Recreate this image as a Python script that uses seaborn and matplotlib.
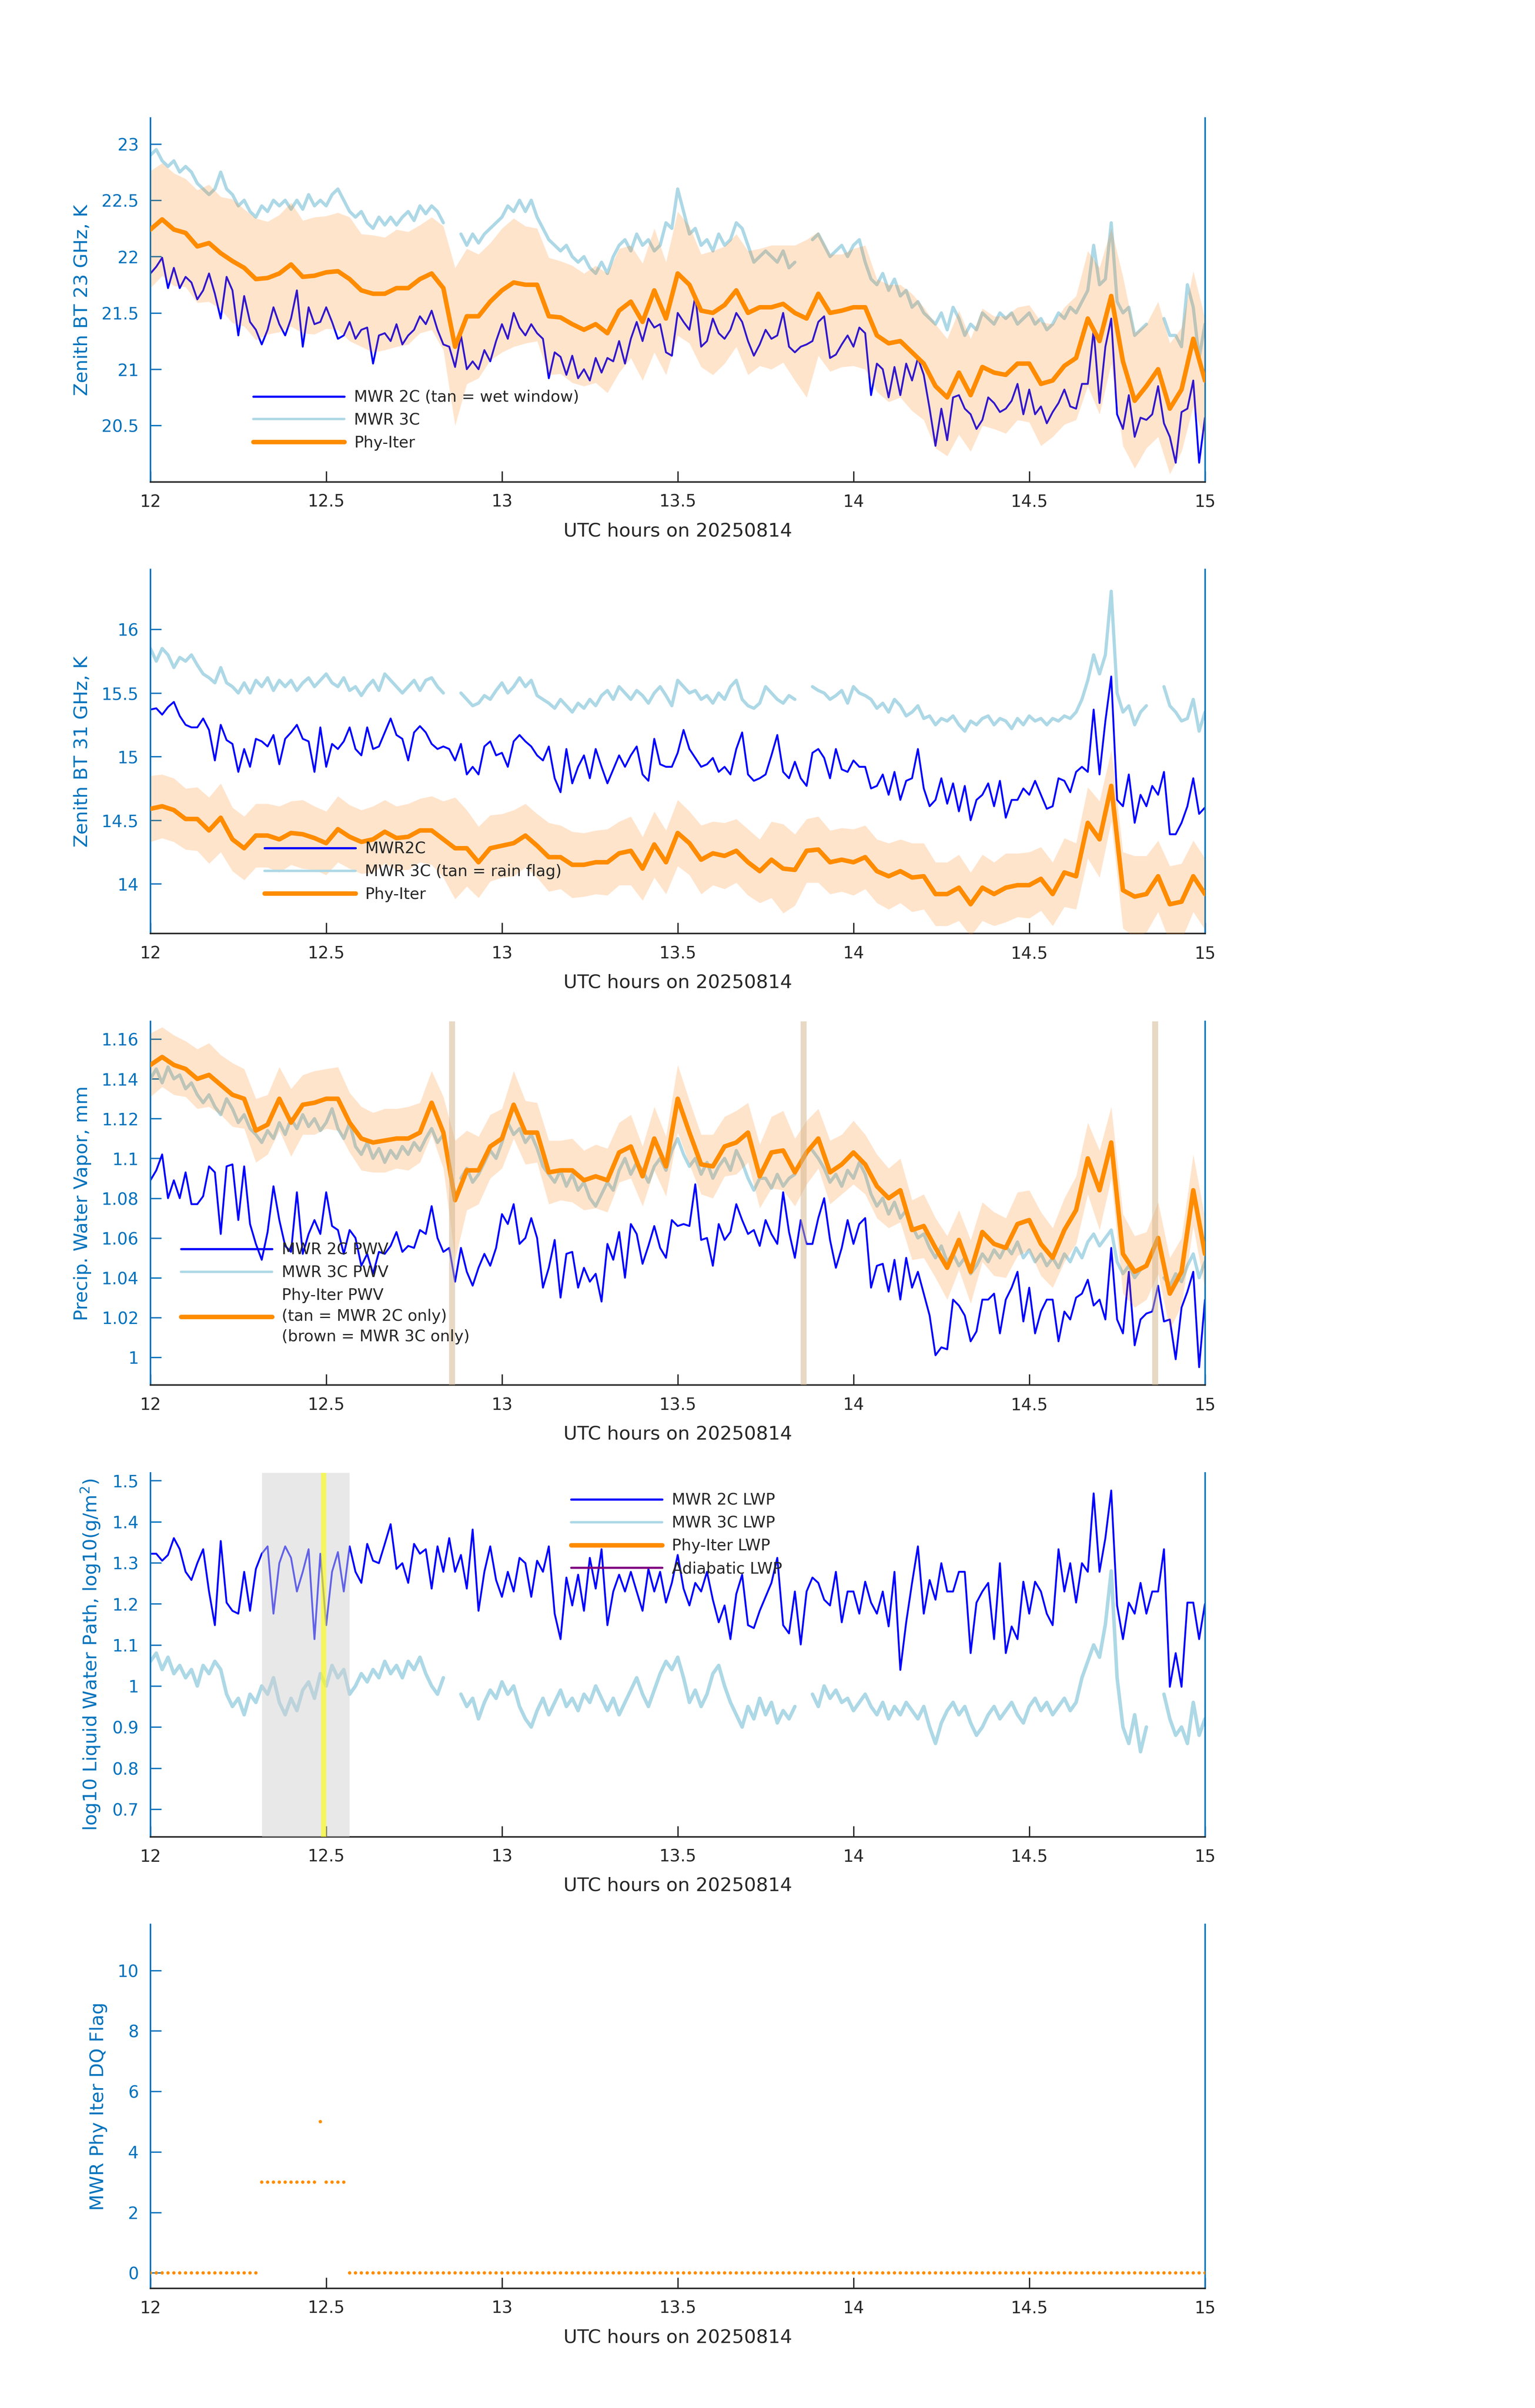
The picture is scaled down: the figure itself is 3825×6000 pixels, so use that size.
import numpy as np
import pandas as pd
import seaborn as sns
import matplotlib.pyplot as plt
from matplotlib.lines import Line2D

nan = float('nan')

# ---- values (1-min for MWR, 2-min for Phy-Iter) ----
bt23_2c = [
    21.85, 21.91, 21.99, 21.72, 21.90, 21.72, 21.82, 21.77, 21.62, 21.70,
    21.85, 21.67, 21.45, 21.82, 21.70, 21.30, 21.65, 21.42, 21.35, 21.22,
    21.35, 21.55, 21.40, 21.30, 21.45, 21.70, 21.20, 21.55, 21.40, 21.42,
    21.55, 21.42, 21.27, 21.30, 21.42, 21.27, 21.35, 21.37, 21.05, 21.30,
    21.32, 21.25, 21.40, 21.22, 21.30, 21.35, 21.47, 21.40, 21.52, 21.35,
    21.22, 21.20, 21.02, 21.30, 21.00, 21.07, 21.00, 21.17, 21.07, 21.25,
    21.40, 21.27, 21.50, 21.37, 21.30, 21.40, 21.32, 21.27, 20.92, 21.15,
    21.11, 20.95, 21.12, 20.92, 21.00, 20.90, 21.10, 20.97, 21.10, 21.07,
    21.25, 21.05, 21.27, 21.42, 21.25, 21.45, 21.37, 21.40, 21.15, 21.12,
    21.50, 21.42, 21.35, 21.65, 21.20, 21.25, 21.45, 21.32, 21.27, 21.35,
    21.50, 21.42, 21.25, 21.12, 21.22, 21.35, 21.27, 21.30, 21.50, 21.20,
    21.15, 21.20, 21.22, 21.25, 21.42, 21.47, 21.10, 21.13, 21.22, 21.30,
    21.20, 21.37, 21.32, 20.77, 21.05, 21.00, 20.75, 21.02, 20.77, 21.05,
    20.90, 21.10, 20.95, 20.65, 20.32, 20.65, 20.37, 20.75, 20.77, 20.65,
    20.60, 20.47, 20.55, 20.75, 20.70, 20.62, 20.65, 20.72, 20.87, 20.60,
    20.82, 20.60, 20.67, 20.52, 20.62, 20.70, 20.82, 20.67, 20.65, 20.87,
    20.87, 21.35, 20.70, 21.20, 21.45, 20.60, 20.47, 20.77, 20.40, 20.57,
    20.55, 20.60, 20.85, 20.52, 20.40, 20.17, 20.62, 20.65, 20.90, 20.17,
    20.57]
bt23_3c = [
    22.90, 22.95, 22.85, 22.80, 22.85, 22.75, 22.80, 22.75, 22.65, 22.60,
    22.55, 22.60, 22.75, 22.60, 22.55, 22.45, 22.50, 22.40, 22.35, 22.45,
    22.40, 22.50, 22.45, 22.50, 22.42, 22.50, 22.42, 22.55, 22.45, 22.50,
    22.45, 22.55, 22.60, 22.50, 22.40, 22.35, 22.40, 22.30, 22.25, 22.35,
    22.28, 22.35, 22.28, 22.35, 22.40, 22.32, 22.45, 22.38, 22.45, 22.40,
    22.30, nan, nan, 22.20, 22.10, 22.20, 22.12, 22.20, 22.25, 22.30,
    22.35, 22.45, 22.40, 22.50, 22.40, 22.50, 22.35, 22.25, 22.15, 22.10,
    22.05, 22.10, 22.00, 21.95, 22.00, 21.90, 21.85, 21.95, 21.85, 22.00,
    22.10, 22.15, 22.05, 22.20, 22.10, 22.15, 22.05, 22.10, 22.30, 22.25,
    22.60, 22.40, 22.20, 22.25, 22.10, 22.15, 22.05, 22.20, 22.10, 22.15,
    22.30, 22.25, 22.10, 21.95, 22.00, 22.05, 22.00, 21.95, 22.05, 21.90,
    21.95, nan, nan, 22.15, 22.20, 22.10, 22.00, 22.05, 22.10, 22.00,
    22.10, 22.15, 21.95, 21.80, 21.75, 21.85, 21.70, 21.80, 21.65, 21.70,
    21.55, 21.60, 21.50, 21.45, 21.40, 21.50, 21.35, 21.55, 21.45, 21.30,
    21.40, 21.35, 21.50, 21.45, 21.40, 21.50, 21.45, 21.50, 21.40, 21.45,
    21.50, 21.40, 21.45, 21.35, 21.40, 21.50, 21.45, 21.55, 21.50, 21.60,
    21.70, 22.10, 21.75, 21.80, 22.30, 21.60, 21.50, 21.55, 21.30, 21.35,
    21.40, nan, nan, 21.45, 21.30, 21.30, 21.20, 21.75, 21.55, 21.10,
    21.40]
bt23_pi = [
    22.24, 22.33, 22.24, 22.21, 22.09, 22.12, 22.03, 21.96, 21.90, 21.80,
    21.81, 21.85, 21.93, 21.82, 21.83, 21.86, 21.87, 21.80, 21.70, 21.67,
    21.67, 21.72, 21.72, 21.80, 21.85, 21.72, 21.20, 21.47, 21.47, 21.60,
    21.70, 21.77, 21.75, 21.75, 21.47, 21.46, 21.40, 21.35, 21.40, 21.32,
    21.52, 21.60, 21.42, 21.70, 21.45, 21.85, 21.75, 21.52, 21.50, 21.57,
    21.70, 21.50, 21.55, 21.55, 21.58, 21.50, 21.45, 21.67, 21.50, 21.52,
    21.55, 21.55, 21.30, 21.23, 21.25, 21.15, 21.05, 20.85, 20.75, 20.97,
    20.77, 21.02, 20.97, 20.95, 21.05, 21.05, 20.87, 20.90, 21.03, 21.10,
    21.45, 21.25, 21.65, 21.07, 20.72, 20.85, 21.00, 20.65, 20.82, 21.27,
    20.90]
bt23_err = [
    0.52, 0.50, 0.50, 0.48, 0.50, 0.52, 0.50, 0.55, 0.52, 0.54,
    0.50, 0.52, 0.55, 0.50, 0.52, 0.50, 0.52, 0.55, 0.50, 0.52,
    0.50, 0.52, 0.50, 0.48, 0.50, 0.55, 0.70, 0.60, 0.55, 0.52,
    0.55, 0.57, 0.52, 0.50, 0.52, 0.50, 0.52, 0.50, 0.52, 0.53,
    0.55, 0.50, 0.52, 0.55, 0.50, 0.55, 0.52, 0.50, 0.55, 0.52,
    0.50, 0.55, 0.52, 0.55, 0.52, 0.60, 0.70, 0.55, 0.52, 0.50,
    0.52, 0.55, 0.50, 0.52, 0.50, 0.52, 0.50, 0.55, 0.52, 0.55,
    0.50, 0.52, 0.50, 0.52, 0.50, 0.52, 0.55, 0.50, 0.52, 0.55,
    0.60, 0.65, 0.60, 0.75, 0.60, 0.55, 0.60, 0.58, 0.55, 0.60,
    0.55]

bt31_2c = [
    15.37, 15.38, 15.33, 15.39, 15.43, 15.32, 15.25, 15.23, 15.23, 15.30,
    15.21, 14.97, 15.25, 15.13, 15.10, 14.88, 15.06, 14.92, 15.14, 15.12,
    15.08, 15.17, 14.94, 15.14, 15.19, 15.25, 15.14, 15.12, 14.88, 15.23,
    14.92, 15.10, 15.06, 15.12, 15.23, 15.06, 15.01, 15.23, 15.06, 15.08,
    15.19, 15.30, 15.17, 15.14, 14.97, 15.19, 15.24, 15.19, 15.10, 15.06,
    15.08, 15.06, 14.97, 15.10, 14.86, 14.92, 14.86, 15.08, 15.12, 15.01,
    15.03, 14.92, 15.12, 15.17, 15.12, 15.08, 15.01, 14.97, 15.08, 14.83,
    14.72, 15.06, 14.79, 14.92, 15.01, 14.83, 15.06, 14.92, 14.79, 14.90,
    15.01, 14.92, 15.01, 15.08, 14.86, 14.81, 15.14, 14.94, 14.92, 14.92,
    15.03, 15.21, 15.06, 14.99, 14.92, 14.94, 14.99, 14.88, 14.92, 14.86,
    15.06, 15.19, 14.86, 14.81, 14.83, 14.86, 15.01, 15.17, 14.88, 14.83,
    14.96, 14.83, 14.77, 15.03, 15.06, 14.99, 14.83, 15.06, 14.90, 14.88,
    14.97, 14.92, 14.92, 14.75, 14.77, 14.86, 14.70, 14.88, 14.66, 14.81,
    14.83, 15.06, 14.75, 14.61, 14.66, 14.83, 14.63, 14.79, 14.57, 14.77,
    14.50, 14.66, 14.70, 14.79, 14.61, 14.81, 14.52, 14.66, 14.66, 14.75,
    14.70, 14.81, 14.70, 14.59, 14.61, 14.83, 14.81, 14.72, 14.88, 14.92,
    14.88, 15.37, 14.86, 15.28, 15.63, 14.66, 14.61, 14.86, 14.48, 14.70,
    14.61, 14.77, 14.70, 14.88, 14.39, 14.39, 14.48, 14.61, 14.83, 14.55,
    14.60]
bt31_3c = [
    15.85, 15.75, 15.85, 15.80, 15.70, 15.78, 15.75, 15.80, 15.72, 15.65,
    15.62, 15.58, 15.70, 15.58, 15.55, 15.50, 15.58, 15.50, 15.60, 15.55,
    15.62, 15.52, 15.60, 15.55, 15.60, 15.52, 15.58, 15.62, 15.55, 15.60,
    15.65, 15.58, 15.55, 15.62, 15.52, 15.55, 15.48, 15.55, 15.60, 15.52,
    15.65, 15.60, 15.55, 15.50, 15.55, 15.60, 15.52, 15.60, 15.62, 15.55,
    15.50, nan, nan, 15.50, 15.45, 15.40, 15.42, 15.48, 15.45, 15.52,
    15.58, 15.50, 15.55, 15.62, 15.55, 15.60, 15.48, 15.45, 15.42, 15.38,
    15.45, 15.40, 15.35, 15.42, 15.38, 15.45, 15.40, 15.48, 15.52, 15.45,
    15.55, 15.50, 15.45, 15.52, 15.48, 15.42, 15.50, 15.55, 15.48, 15.40,
    15.60, 15.55, 15.50, 15.52, 15.45, 15.48, 15.42, 15.50, 15.45, 15.55,
    15.60, 15.45, 15.40, 15.38, 15.42, 15.55, 15.50, 15.45, 15.42, 15.48,
    15.45, nan, nan, 15.55, 15.52, 15.50, 15.45, 15.48, 15.52, 15.42,
    15.55, 15.50, 15.48, 15.45, 15.38, 15.42, 15.35, 15.45, 15.40, 15.32,
    15.35, 15.40, 15.30, 15.32, 15.25, 15.30, 15.28, 15.32, 15.25, 15.20,
    15.28, 15.25, 15.30, 15.32, 15.25, 15.30, 15.28, 15.22, 15.30, 15.25,
    15.32, 15.28, 15.30, 15.25, 15.30, 15.28, 15.32, 15.30, 15.35, 15.45,
    15.60, 15.80, 15.65, 15.80, 16.30, 15.50, 15.35, 15.40, 15.25, 15.35,
    15.40, nan, nan, 15.55, 15.40, 15.35, 15.28, 15.30, 15.45, 15.20,
    15.35]
bt31_pi = [
    14.59, 14.61, 14.58, 14.51, 14.51, 14.42, 14.52, 14.35, 14.28, 14.38,
    14.38, 14.35, 14.40, 14.39, 14.36, 14.32, 14.43, 14.37, 14.33, 14.35,
    14.41, 14.36, 14.37, 14.42, 14.42, 14.35, 14.28, 14.28, 14.17, 14.28,
    14.30, 14.32, 14.38, 14.30, 14.21, 14.21, 14.15, 14.15, 14.17, 14.17,
    14.24, 14.26, 14.12, 14.31, 14.17, 14.40, 14.32, 14.19, 14.24, 14.22,
    14.26, 14.17, 14.10, 14.19, 14.12, 14.11, 14.26, 14.27, 14.17, 14.19,
    14.17, 14.21, 14.10, 14.06, 14.10, 14.05, 14.06, 13.92, 13.92, 13.97,
    13.84, 13.97, 13.92, 13.97, 13.99, 13.99, 14.04, 13.92, 14.09, 14.06,
    14.48, 14.35, 14.77, 13.95, 13.90, 13.92, 14.06, 13.84, 13.86, 14.06,
    13.92]
bt31_err = [
    0.26, 0.25, 0.25, 0.24, 0.25, 0.26, 0.27, 0.25, 0.25, 0.25,
    0.25, 0.26, 0.25, 0.27, 0.25, 0.25, 0.26, 0.25, 0.25, 0.26,
    0.25, 0.25, 0.26, 0.25, 0.27, 0.30, 0.40, 0.30, 0.28, 0.26,
    0.25, 0.26, 0.25, 0.25, 0.27, 0.25, 0.26, 0.25, 0.25, 0.26,
    0.25, 0.27, 0.25, 0.26, 0.25, 0.26, 0.25, 0.27, 0.25, 0.26,
    0.25, 0.26, 0.25, 0.30, 0.35, 0.28, 0.25, 0.26, 0.25, 0.25,
    0.26, 0.25, 0.25, 0.26, 0.25, 0.27, 0.26, 0.25, 0.25, 0.26,
    0.25, 0.26, 0.25, 0.27, 0.25, 0.26, 0.25, 0.25, 0.27, 0.26,
    0.28, 0.30, 0.28, 0.30, 0.32, 0.30, 0.28, 0.30, 0.30, 0.28,
    0.28]

pwv_2c = [
    1.089, 1.094, 1.102, 1.080, 1.089, 1.080, 1.093, 1.077, 1.077, 1.081,
    1.096, 1.093, 1.062, 1.096, 1.097, 1.069, 1.096, 1.067, 1.057, 1.049,
    1.063, 1.086, 1.069, 1.056, 1.053, 1.083, 1.052, 1.062, 1.069, 1.062,
    1.083, 1.066, 1.064, 1.052, 1.064, 1.060, 1.046, 1.052, 1.042, 1.053,
    1.052, 1.056, 1.063, 1.053, 1.056, 1.055, 1.064, 1.062, 1.076, 1.060,
    1.053, 1.055, 1.038, 1.055, 1.043, 1.036, 1.045, 1.052, 1.046, 1.055,
    1.072, 1.067, 1.077, 1.057, 1.060, 1.070, 1.060, 1.035, 1.045, 1.059,
    1.030, 1.052, 1.053, 1.035, 1.045, 1.038, 1.042, 1.028, 1.057, 1.049,
    1.063, 1.040, 1.067, 1.062, 1.047, 1.056, 1.066, 1.055, 1.050, 1.069,
    1.066, 1.067, 1.066, 1.087, 1.059, 1.060, 1.046, 1.067, 1.059, 1.063,
    1.077, 1.069, 1.062, 1.064, 1.056, 1.069, 1.062, 1.057, 1.083, 1.063,
    1.050, 1.069, 1.057, 1.057, 1.070, 1.080, 1.059, 1.045, 1.055, 1.069,
    1.057, 1.067, 1.070, 1.035, 1.046, 1.047, 1.033, 1.049, 1.029, 1.050,
    1.035, 1.043, 1.032, 1.021, 1.001, 1.005, 1.004, 1.029, 1.026, 1.021,
    1.008, 1.013, 1.029, 1.029, 1.032, 1.012, 1.029, 1.035, 1.043, 1.018,
    1.035, 1.012, 1.023, 1.029, 1.029, 1.008, 1.023, 1.019, 1.030, 1.032,
    1.039, 1.026, 1.029, 1.019, 1.055, 1.019, 1.012, 1.043, 1.006, 1.019,
    1.022, 1.023, 1.036, 1.018, 1.019, 0.999, 1.025, 1.033, 1.043, 0.995,
    1.029]
pwv_3c = [
    1.140, 1.145, 1.138, 1.146, 1.140, 1.142, 1.135, 1.138, 1.132, 1.128,
    1.132, 1.126, 1.122, 1.130, 1.125, 1.118, 1.122, 1.115, 1.112, 1.108,
    1.114, 1.110, 1.118, 1.112, 1.120, 1.115, 1.122, 1.116, 1.120, 1.114,
    1.118, 1.125, 1.115, 1.110, 1.118, 1.106, 1.102, 1.108, 1.100, 1.105,
    1.098, 1.104, 1.100, 1.106, 1.102, 1.108, 1.104, 1.110, 1.115, 1.108,
    1.112, nan, nan, 1.090, 1.095, 1.088, 1.092, 1.098, 1.104, 1.100,
    1.108, 1.118, 1.112, 1.115, 1.108, 1.112, 1.105, 1.096, 1.092, 1.088,
    1.094, 1.086, 1.092, 1.084, 1.088, 1.080, 1.076, 1.082, 1.088, 1.084,
    1.094, 1.100, 1.092, 1.098, 1.094, 1.088, 1.096, 1.100, 1.094, 1.104,
    1.110, 1.102, 1.096, 1.100, 1.092, 1.098, 1.090, 1.096, 1.100, 1.094,
    1.104, 1.098, 1.090, 1.084, 1.090, 1.090, 1.085, 1.092, 1.086, 1.090,
    1.092, nan, nan, 1.104, 1.100, 1.095, 1.088, 1.092, 1.086, 1.094,
    1.090, 1.098, 1.092, 1.082, 1.076, 1.080, 1.072, 1.078, 1.070, 1.074,
    1.066, 1.060, 1.062, 1.055, 1.050, 1.056, 1.048, 1.052, 1.046, 1.050,
    1.042, 1.046, 1.052, 1.048, 1.054, 1.050, 1.056, 1.052, 1.058, 1.050,
    1.054, 1.048, 1.052, 1.046, 1.050, 1.045, 1.052, 1.048, 1.055, 1.050,
    1.058, 1.062, 1.056, 1.060, 1.064, 1.048, 1.042, 1.046, 1.040, 1.044,
    1.046, nan, nan, 1.040, 1.036, 1.042, 1.038, 1.046, 1.052, 1.040,
    1.048]
pwv_pi = [
    1.147, 1.151, 1.147, 1.145, 1.140, 1.142, 1.137, 1.132, 1.130, 1.114,
    1.117, 1.130, 1.118, 1.127, 1.128, 1.130, 1.130, 1.118, 1.110, 1.108,
    1.109, 1.110, 1.110, 1.113, 1.128, 1.113, 1.079, 1.094, 1.094, 1.106,
    1.110, 1.127, 1.113, 1.113, 1.093, 1.094, 1.094, 1.089, 1.091, 1.089,
    1.103, 1.106, 1.091, 1.110, 1.096, 1.130, 1.113, 1.097, 1.096, 1.106,
    1.108, 1.113, 1.091, 1.103, 1.104, 1.093, 1.103, 1.110, 1.093, 1.097,
    1.103, 1.097, 1.086, 1.080, 1.084, 1.064, 1.066, 1.055, 1.045, 1.059,
    1.043, 1.063, 1.057, 1.055, 1.067, 1.069, 1.057, 1.050, 1.064, 1.074,
    1.100, 1.084, 1.108, 1.052, 1.043, 1.046, 1.060, 1.032, 1.043, 1.084,
    1.052]
pwv_err = [
    0.016, 0.015, 0.015, 0.014, 0.015, 0.016, 0.015, 0.016, 0.015, 0.016,
    0.015, 0.016, 0.017, 0.015, 0.016, 0.015, 0.016, 0.015, 0.016, 0.015,
    0.016, 0.015, 0.016, 0.015, 0.016, 0.018, 0.030, 0.020, 0.017, 0.016,
    0.015, 0.017, 0.016, 0.015, 0.016, 0.015, 0.016, 0.015, 0.016, 0.016,
    0.015, 0.016, 0.015, 0.016, 0.015, 0.017, 0.016, 0.015, 0.016, 0.015,
    0.016, 0.015, 0.016, 0.018, 0.020, 0.017, 0.016, 0.015, 0.016, 0.015,
    0.016, 0.015, 0.016, 0.015, 0.016, 0.015, 0.016, 0.015, 0.016, 0.015,
    0.016, 0.015, 0.016, 0.015, 0.016, 0.015, 0.016, 0.015, 0.016, 0.017,
    0.018, 0.020, 0.018, 0.020, 0.018, 0.017, 0.018, 0.018, 0.017, 0.018,
    0.018]
pwv_2c_only = [12.858, 13.858, 14.858]

lwp_2c = [
    1.322, 1.322, 1.305, 1.319, 1.360, 1.333, 1.278, 1.258, 1.299, 1.333,
    1.230, 1.148, 1.353, 1.203, 1.183, 1.176, 1.278, 1.183, 1.285, 1.322,
    1.340, 1.176, 1.299, 1.340, 1.312, 1.230, 1.278, 1.333, 1.114, 1.322,
    1.148, 1.278, 1.326, 1.230, 1.340, 1.278, 1.251, 1.346, 1.305, 1.299,
    1.346, 1.394, 1.285, 1.299, 1.251, 1.346, 1.322, 1.333, 1.237, 1.340,
    1.278, 1.360, 1.278, 1.319, 1.237, 1.381, 1.183, 1.278, 1.340, 1.258,
    1.217, 1.278, 1.230, 1.312, 1.299, 1.217, 1.305, 1.278, 1.340, 1.176,
    1.114, 1.264, 1.196, 1.271, 1.183, 1.312, 1.237, 1.333, 1.148, 1.230,
    1.271, 1.230, 1.278, 1.230, 1.183, 1.285, 1.230, 1.278, 1.203, 1.251,
    1.319, 1.237, 1.196, 1.251, 1.230, 1.278, 1.210, 1.155, 1.196, 1.114,
    1.224, 1.271, 1.148, 1.141, 1.183, 1.217, 1.251, 1.312, 1.148, 1.128,
    1.230, 1.101, 1.230, 1.264, 1.251, 1.210, 1.196, 1.278, 1.155, 1.230,
    1.230, 1.176, 1.254, 1.203, 1.176, 1.230, 1.145, 1.278, 1.039, 1.155,
    1.251, 1.340, 1.176, 1.258, 1.210, 1.299, 1.230, 1.230, 1.278, 1.278,
    1.080, 1.203, 1.230, 1.251, 1.114, 1.299, 1.080, 1.145, 1.114, 1.254,
    1.176, 1.254, 1.230, 1.176, 1.148, 1.333, 1.230, 1.299, 1.203, 1.299,
    1.278, 1.469, 1.278, 1.360, 1.476, 1.196, 1.114, 1.203, 1.176, 1.251,
    1.176, 1.230, 1.230, 1.333, 0.998, 1.080, 0.998, 1.203, 1.203, 1.114,
    1.200]
lwp_3c = [
    1.06, 1.08, 1.04, 1.07, 1.03, 1.05, 1.02, 1.04, 1.00, 1.05,
    1.03, 1.06, 1.04, 0.98, 0.95, 0.97, 0.93, 0.98, 0.96, 1.00,
    0.98, 1.02, 0.96, 0.93, 0.97, 0.94, 0.99, 1.01, 0.97, 1.03,
    1.00, 1.05, 1.02, 1.04, 0.98, 1.00, 1.03, 1.01, 1.04, 1.02,
    1.06, 1.03, 1.05, 1.02, 1.06, 1.04, 1.07, 1.03, 1.00, 0.98,
    1.02, nan, nan, 0.98, 0.95, 0.97, 0.92, 0.96, 0.99, 0.97,
    1.01, 0.98, 1.00, 0.95, 0.92, 0.90, 0.94, 0.97, 0.93, 0.96,
    0.99, 0.95, 0.97, 0.94, 0.98, 0.96, 1.00, 0.97, 0.94, 0.97,
    0.93, 0.96, 0.99, 1.02, 0.98, 0.95, 0.99, 1.03, 1.06, 1.04,
    1.07, 1.02, 0.96, 0.99, 0.95, 0.98, 1.03, 1.05, 1.00, 0.96,
    0.93, 0.90, 0.95, 0.92, 0.97, 0.93, 0.96, 0.91, 0.94, 0.92,
    0.95, nan, nan, 0.98, 0.95, 1.00, 0.97, 0.99, 0.96, 0.97,
    0.94, 0.96, 0.98, 0.95, 0.93, 0.96, 0.92, 0.95, 0.93, 0.96,
    0.94, 0.92, 0.95, 0.90, 0.86, 0.91, 0.94, 0.96, 0.93, 0.95,
    0.91, 0.88, 0.90, 0.93, 0.95, 0.92, 0.94, 0.96, 0.93, 0.91,
    0.95, 0.97, 0.94, 0.96, 0.93, 0.95, 0.97, 0.94, 0.96, 1.02,
    1.06, 1.10, 1.07, 1.15, 1.28, 1.02, 0.90, 0.86, 0.93, 0.84,
    0.90, nan, nan, 0.98, 0.92, 0.88, 0.90, 0.86, 0.96, 0.88,
    0.92]
lwp_shade = (12.318, 12.567)
lwp_mark = 12.492

# DQ flag, stored as (value, count) runs at 1-min spacing
dq_runs = [(0, 19), (3, 10), (5, 1), (3, 4), (0, 147)]

xticks = [12, 12.5, 13, 13.5, 14, 14.5, 15]
xtick_labels = ['12', '12.5', '13', '13.5', '14', '14.5', '15']
yt_bt23 = [20.5, 21, 21.5, 22, 22.5, 23]
yt_bt31 = [14, 14.5, 15, 15.5, 16]
yt_pwv = [1, 1.02, 1.04, 1.06, 1.08, 1.1, 1.12, 1.14, 1.16]
yt_lwp = [0.7, 0.8, 0.9, 1, 1.1, 1.2, 1.3, 1.4, 1.5]
yt_dq = [0, 2, 4, 6, 8, 10]

BLUE = '#0000ff'
LIGHT = '#add8e6'
ORANGE = '#ff8c00'
PURPLE = '#800080'
AXBLUE = '#0072bd'
DARK = '#262626'
BAND = (1.0, 0.47, 0.0)

sns.set_theme(style='white')
plt.rcParams['font.family'] = ['DejaVu Sans']


def hours(values):
    return np.linspace(12, 15, len(values))


def frame(values):
    df = pd.DataFrame({'t': hours(values), 'v': np.asarray(values, dtype=float)})
    df['seg'] = df['v'].isna().cumsum()
    return df.dropna()


def trace(ax, values, color, lw, z):
    sns.lineplot(data=frame(values), x='t', y='v', units='seg', estimator=None,
                 color=color, lw=lw, zorder=z, legend=False, ax=ax)


def band(ax, mid, err):
    mid, err = np.asarray(mid), np.asarray(err)
    ax.fill_between(hours(mid), mid - err, mid + err, color=BAND, alpha=0.2,
                    lw=0, zorder=3)


def style(ax, ylim, yticks, ylabel):
    ax.set_xlim(12, 15)
    ax.set_ylim(*ylim)
    ax.set_xticks(xticks)
    ax.set_xticklabels(xtick_labels)
    ax.set_yticks(yticks)
    ax.set_yticklabels([f'{v:g}' for v in yticks])
    ax.spines['top'].set_visible(False)
    for side in ('left', 'right'):
        ax.spines[side].set_color(AXBLUE)
        ax.spines[side].set_linewidth(0.9)
    ax.spines['bottom'].set_color(DARK)
    ax.spines['bottom'].set_linewidth(0.9)
    ax.tick_params(axis='x', direction='in', length=6.5, width=0.8,
                   colors=DARK, labelsize=10, pad=7, bottom=True)
    ax.tick_params(axis='y', direction='in', length=6.5, width=0.8,
                   colors=AXBLUE, labelsize=10, pad=7, left=True)
    ax.set_xlabel('UTC hours on 20250814', fontsize=11.3, color=DARK, labelpad=7)
    ax.set_ylabel(ylabel, fontsize=11.3, color=AXBLUE, labelpad=6)


def legend(ax, entries, anchor):
    handles = [Line2D([], [], color=c, lw=w) for _, c, w in entries]
    labels = [lab for lab, _, _ in entries]
    leg = ax.legend(handles, labels, loc='upper left', bbox_to_anchor=anchor,
                    frameon=False, fontsize=9.4, handlelength=5.8,
                    handletextpad=0.6, labelspacing=0.48, borderpad=0,
                    borderaxespad=0)
    for txt in leg.get_texts():
        txt.set_linespacing(1.45)
    leg.set_zorder(10)


fig, axes = plt.subplots(5, 1, figsize=(12.75, 20), dpi=300)
fig.subplots_adjust(left=0.098, right=0.785, top=0.951, bottom=0.0497,
                    hspace=0.241)

# 23 GHz
ax = axes[0]
trace(ax, bt23_3c, LIGHT, 1.9, 1)
trace(ax, bt23_2c, BLUE, 1.1, 2)
band(ax, bt23_pi, bt23_err)
trace(ax, bt23_pi, ORANGE, 2.7, 4)
style(ax, (20.0, 23.23), yt_bt23, 'Zenith BT 23 GHz, K')
legend(ax, [('MWR 2C (tan = wet window)', BLUE, 1.3),
            ('MWR 3C', LIGHT, 1.4),
            ('Phy-Iter', ORANGE, 2.7)], (0.0975, 0.253))

# 31 GHz
ax = axes[1]
trace(ax, bt31_3c, LIGHT, 1.9, 1)
trace(ax, bt31_2c, BLUE, 1.1, 2)
band(ax, bt31_pi, bt31_err)
trace(ax, bt31_pi, ORANGE, 2.7, 4)
style(ax, (13.61, 16.47), yt_bt31, 'Zenith BT 31 GHz, K')
legend(ax, [('MWR2C', BLUE, 1.3),
            ('MWR 3C (tan = rain flag)', LIGHT, 1.4),
            ('Phy-Iter', ORANGE, 2.7)], (0.108, 0.253))

# PWV
ax = axes[2]
trace(ax, pwv_3c, LIGHT, 1.9, 1)
trace(ax, pwv_2c, BLUE, 1.1, 2)
band(ax, pwv_pi, pwv_err)
trace(ax, pwv_pi, ORANGE, 2.7, 4)
for tc in pwv_2c_only:
    ax.axvspan(tc - 0.0085, tc + 0.0085, color='tan', alpha=0.5, lw=0, zorder=5)
style(ax, (0.986, 1.169), yt_pwv, 'Precip. Water Vapor, mm')
legend(ax, [('MWR 2C PWV', BLUE, 1.3),
            ('MWR 3C PWV', LIGHT, 1.4),
            ('Phy-Iter PWV\n(tan = MWR 2C only)\n(brown = MWR 3C only)', ORANGE, 2.7)],
       (0.029, 0.392))

# LWP
ax = axes[3]
trace(ax, lwp_3c, LIGHT, 2.1, 1)
trace(ax, lwp_2c, BLUE, 1.1, 2)
ax.axvspan(*lwp_shade, color='#cfcfcf', alpha=0.48, lw=0, zorder=5)
ax.axvline(lwp_mark, color='yellow', lw=3.1, alpha=0.6, zorder=6)
style(ax, (0.633, 1.519), yt_lwp, r'log10 Liquid Water Path, log10(g/m$^2$)')
legend(ax, [('MWR 2C LWP', BLUE, 1.3),
            ('MWR 3C LWP', LIGHT, 1.4),
            ('Phy-Iter LWP', ORANGE, 2.7),
            ('Adiabatic LWP', PURPLE, 1.3)], (0.399, 0.945))

# DQ flag
ax = axes[4]
dq_flag = [v for v, n in dq_runs for _ in range(n)]
sns.scatterplot(x=hours(dq_flag), y=dq_flag, color=ORANGE, s=4,
                edgecolor='none', legend=False, ax=ax, zorder=3)
style(ax, (-0.51, 11.52), yt_dq, 'MWR Phy Iter DQ Flag')

fig.savefig('out.png', dpi=300)
